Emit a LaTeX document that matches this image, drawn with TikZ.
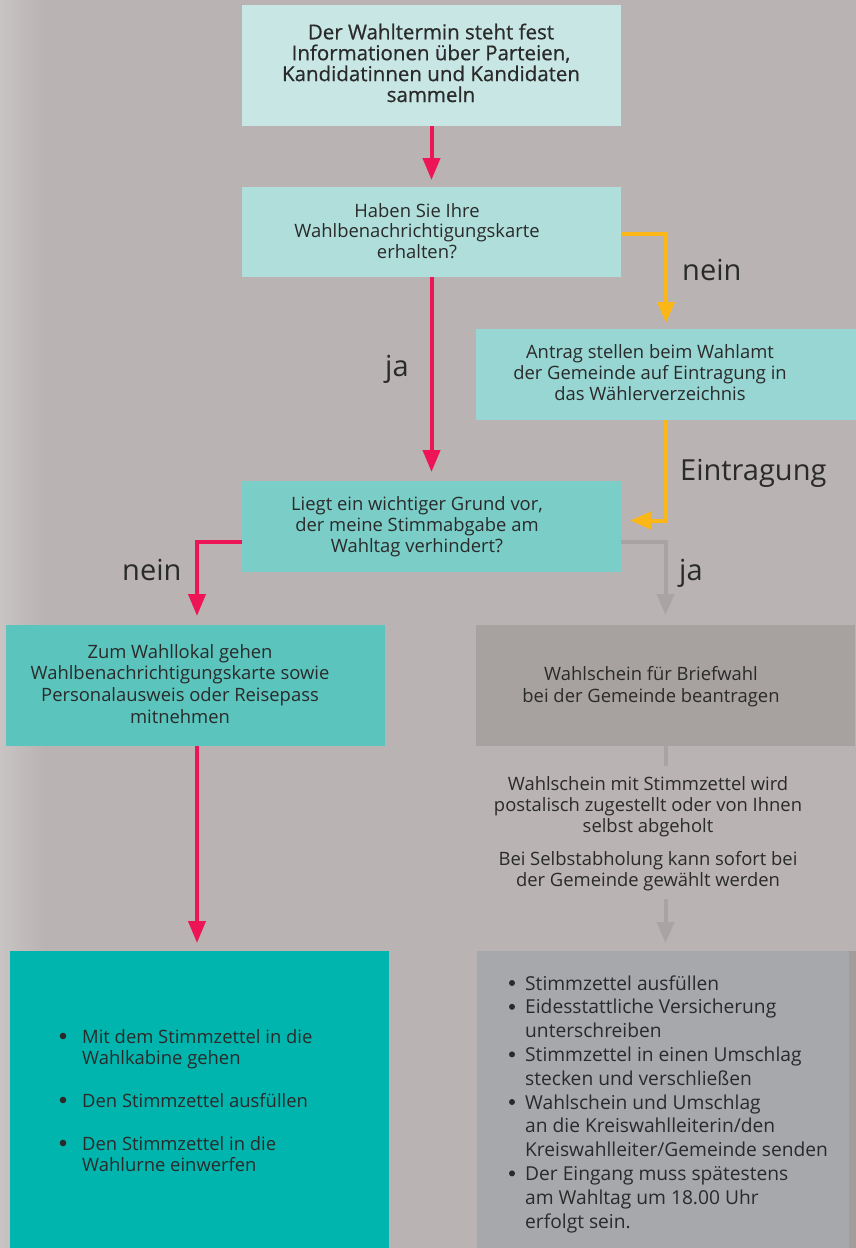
\documentclass[tikz,border=0pt]{standalone}
\usepackage{fontspec}
\setmainfont{Open Sans}
\newfontfamily\semib[FakeBold=0.6]{Open Sans}
\usetikzlibrary{arrows.meta}
\definecolor{bgc}{HTML}{B9B3B3}
\definecolor{bgl}{HTML}{C8C4C3}
\definecolor{c1}{HTML}{C8E7E4}
\definecolor{c2}{HTML}{B0DEDB}
\definecolor{c3}{HTML}{97D6D2}
\definecolor{c4}{HTML}{7BCDC8}
\definecolor{c5}{HTML}{5BC4BD}
\definecolor{c7}{HTML}{00B5AD}
\definecolor{c6}{HTML}{A7A2A0}
\definecolor{c8}{HTML}{A6A8AC}
\definecolor{strip}{HTML}{A29D9B}
\definecolor{redc}{HTML}{EE1556}
\definecolor{yelc}{HTML}{FBB617}
\definecolor{grayc}{HTML}{A8A4A3}
\definecolor{textc}{HTML}{2A2A2A}
\begin{document}
\begin{tikzpicture}[x=1pt,y=-1pt,
  box/.style={draw=none, inner sep=0pt, outer sep=0pt},
  txt/.style={font=\fontsize{18.4}{21}\selectfont, align=center, inner sep=0pt, anchor=base, text=textc},
  ltxt/.style={align=left, inner sep=0pt, anchor=base west, text=textc},
  lbl/.style={font=\fontsize{29}{33}\selectfont, anchor=base west, inner sep=0pt, text=textc},
  redarr/.style={draw=redc, line width=4pt, -{Triangle[length=22pt,width=17pt]}},
  yelarr/.style={draw=yelc, line width=4pt, -{Triangle[length=21pt,width=17pt]}},
  grayarr/.style={draw=grayc, line width=4pt, -{Triangle[length=21pt,width=17pt]}},
  grayline/.style={draw=grayc, line width=4pt},
  dot/.style={fill=textc}
]
% background
\fill[bgc] (0,0) rectangle (856,1248);
\shade[left color=bgl, right color=bgc] (0,0) rectangle (45,1248);
\useasboundingbox (0,0) rectangle (856,1248);

% boxes
\node[box, fill=c1, minimum width=379pt, minimum height=121pt] (b1) at (431.5,65.5) {};
\node[box, fill=c2, minimum width=379pt, minimum height=90pt] (b2) at (431.5,232) {};
\node[box, fill=c3, minimum width=380pt, minimum height=91pt] (b3) at (666,374.5) {};
\node[box, fill=c4, minimum width=379pt, minimum height=91pt] (b4) at (431.5,526.5) {};
\node[box, fill=c5, minimum width=379pt, minimum height=121pt] (b5) at (195.5,685.5) {};
\node[box, fill=c6, minimum width=379pt, minimum height=121pt] (b6) at (665.5,685.5) {};
\node[box, fill=c7, minimum width=379pt, minimum height=297pt] (b7) at (199.5,1099.5) {};
\fill[strip] (849,951) rectangle (856,1248);
\node[box, fill=c8, minimum width=372pt, minimum height=297pt] (b8) at (663,1099.5) {};

% box texts (anchor base = baseline of last line)
\node[txt, font=\semib\fontsize{20.5}{20.9}\selectfont] (t1) at (431,102) {Der Wahltermin steht fest\\Informationen über Parteien,\\Kandidatinnen und Kandidaten\\sammeln};
\node[txt, font=\fontsize{18.4}{20.5}\selectfont] (t2) at (417,258) {Haben Sie Ihre\\Wahlbenachrichtigungskarte\\erhalten?};
\node[txt] (t3) at (650,400) {Antrag stellen beim Wahlamt\\der Gemeinde auf Eintragung in\\das Wählerverzeichnis};
\node[txt] (t4) at (417,552) {Liegt ein wichtiger Grund vor,\\der meine Stimmabgabe am\\Wahltag verhindert?};
\node[txt, font=\fontsize{18.4}{21.6}\selectfont] (t5) at (180,723) {Zum Wahllokal gehen\\Wahlbenachrichtigungskarte sowie\\Personalausweis oder Reisepass\\mitnehmen};
\node[txt, font=\fontsize{18.4}{22}\selectfont] (t6) at (651,702) {Wahlschein für Briefwahl\\bei der Gemeinde beantragen};
\node[txt] (tm1) at (648,832) {Wahlschein mit Stimmzettel wird\\postalisch zugestellt oder von Ihnen\\selbst abgeholt};
\node[txt] (tm2) at (648,886) {Bei Selbstabholung kann sofort bei\\der Gemeinde gewählt werden};

% left list
\node[ltxt, font=\fontsize{18.4}{21.5}\selectfont] (l1) at (82,1064.5) {Mit dem Stimmzettel in die\\Wahlkabine gehen};
\node[ltxt, font=\fontsize{18.4}{21.5}\selectfont] (l2) at (82,1107) {Den Stimmzettel ausfüllen};
\node[ltxt, font=\fontsize{18.4}{21.5}\selectfont] (l3) at (82,1171.5) {Den Stimmzettel in die\\Wahlurne einwerfen};
\fill[dot] (63,1036) circle (3.3pt);
\fill[dot] (63,1100) circle (3.3pt);
\fill[dot] (63,1143) circle (3.3pt);

% right list
\node[ltxt, font=\fontsize{19.2}{23.8}\selectfont] (r1) at (525,990) {Stimmzettel ausfüllen};
\node[ltxt, font=\fontsize{19.2}{23.8}\selectfont] (r2) at (525,1037.6) {Eidesstattliche Versicherung\\unterschreiben};
\node[ltxt, font=\fontsize{19.2}{23.8}\selectfont] (r3) at (525,1085.2) {Stimmzettel in einen Umschlag\\stecken und verschließen};
\node[ltxt, font=\fontsize{19.2}{23.8}\selectfont] (r4) at (525,1156.6) {Wahlschein und Umschlag\\an die Kreiswahlleiterin/den\\Kreiswahlleiter/Gemeinde senden};
\node[ltxt, font=\fontsize{19.2}{23.8}\selectfont] (r5) at (525,1228) {Der Eingang muss spätestens\\am Wahltag um 18.00 Uhr\\erfolgt sein.};
\fill[dot] (512,983) circle (3pt);
\fill[dot] (512,1006.8) circle (3pt);
\fill[dot] (512,1054.4) circle (3pt);
\fill[dot] (512,1102) circle (3pt);
\fill[dot] (512,1173.4) circle (3pt);

% labels
\node[lbl] (nein1) at (682,280) {nein};
\node[lbl] (ja1) at (385,376) {ja};
\node[lbl] (eintr) at (680,480) {Eintragung};
\node[lbl] (nein2) at (122,580) {nein};
\node[lbl] (ja2) at (679,580) {ja};

% connectors
\draw[redarr, shorten >=7pt] (b1.south) -- (b2.north);
\draw[redarr, shorten >=9pt] (b2.south) -- (b4.north);
\draw[yelarr, shorten >=6pt] ([yshift=-2pt]b2.east) -| (b3.north);
\draw[yelarr, shorten >=9pt] (b3.south) |- ([yshift=6pt]b4.east);
\draw[grayarr, shorten >=10pt] ([yshift=-15.5pt]b4.east) -| (b6.north);
\draw[redarr, shorten >=9pt] ([yshift=-15.5pt]b4.west) -| ([xshift=1.5pt]b5.north);
\draw[redarr, shorten >=8pt] ([xshift=1.5pt]b5.south) -- ([xshift=1.5pt]b5.south |- b7.north);
\coordinate (g1) at (665.5,766);
\draw[grayline] (b6.south) -- (g1);
\coordinate (g2) at (665.5,899);
\draw[grayarr, shorten >=8pt] (g2) -- (g2 |- b8.north);
\end{tikzpicture}
\end{document}
